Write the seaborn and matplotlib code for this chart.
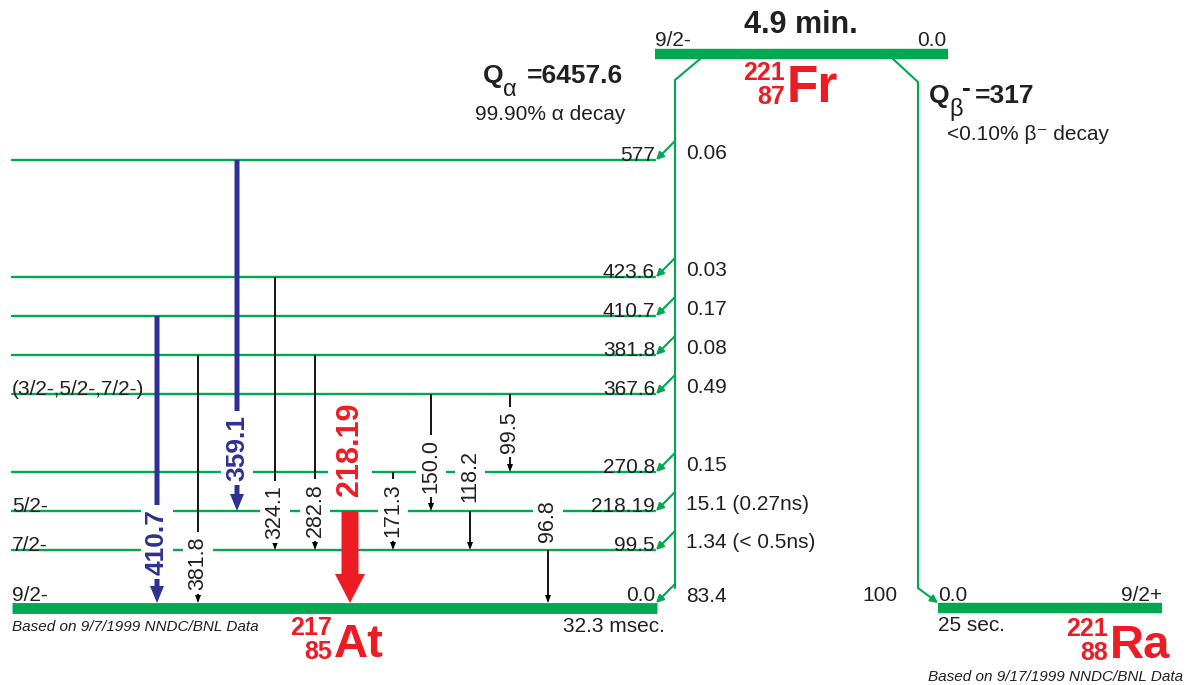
import matplotlib as mpl
import numpy as np
import pandas as pd
import seaborn as sns
import matplotlib.pyplot as plt

# 217At levels (keV), spins and alpha feeding (%)
level_energy = [0.0, 99.5, 218.19, 270.8, 367.6, 381.8, 410.7, 423.6, 577.0]
level_text = ["0.0", "99.5", "218.19", "270.8", "367.6", "381.8", "410.7", "423.6", "577"]
level_spin = ["9/2-", "7/2-", "5/2-", "", "(3/2-,5/2-,7/2-)", "", "", "", ""]
level_feed = ["83.4", "1.34 (< 0.5ns)", "15.1 (0.27ns)", "0.15", "0.49",
              "0.08", "0.17", "0.03", "0.06"]

# gamma transitions
gamma_text = ["410.7", "359.1", "381.8", "324.1", "282.8", "218.19",
              "171.3", "150.0", "118.2", "99.5", "96.8"]
gamma_from = [410.7, 577.0, 381.8, 423.6, 381.8, 218.19, 270.8, 367.6, 218.19, 367.6, 99.5]
gamma_to = [0.0, 218.19, 0.0, 99.5, 99.5, 0.0, 99.5, 218.19, 99.5, 270.8, 0.0]
gamma_kind = ["blue", "blue", "thin", "thin", "thin", "red",
              "thin", "thin", "thin", "thin", "thin"]

# layout of the scheme (pixel positions, not data)
level_y = [608, 550, 511, 472, 394, 355, 316, 277, 160]
gamma_x = [157, 237, 198, 275, 315, 350, 393, 431, 470, 510, 548]
gamma_label_y = [542, 448, 563, 512, 510, 449, 510, 466, 476, 432, 521]

GREEN = "#00a94f"
RED = "#ed1c24"
BLUE = "#2e3192"
INK = "#231f20"

styles = {
    "thin": dict(color="black", width=1.8, hw=6, hl=8, size=15.5, weight="normal"),
    "blue": dict(color=BLUE, width=5, hw=14, hl=17, size=19, weight="bold"),
    "red": dict(color=RED, width=17, hw=30, hl=29, size=22, weight="bold"),
}

sns.set_theme(style="white")
plt.rcParams["font.family"] = ["Liberation Sans", "DejaVu Sans"]

fig = plt.figure(figsize=(11.88, 6.85), dpi=100)
ax = fig.add_axes([0, 0, 1, 1])

ypos = dict(zip(level_energy, level_y))

# thin excited levels
rows = []
for e, y in zip(level_energy[1:], level_y[1:]):
    rows += [dict(x=12, y=y, level=e), dict(x=655, y=y, level=e)]
levels = pd.DataFrame(rows)
sns.lineplot(data=levels, x="x", y="y", units="level", estimator=None, sort=False,
             color=GREEN, lw=1.7, ax=ax, legend=False)

# ground states
ax.plot([12, 657], [608, 608], color=GREEN, lw=7.8, solid_capstyle="butt")
ax.plot([655, 948], [54, 54], color=GREEN, lw=7.5, solid_capstyle="butt")
ax.plot([938, 1162], [608, 608], color=GREEN, lw=7.5, solid_capstyle="butt")

# alpha and beta feeding
ax.plot([700, 675, 675], [59, 80, 588], color=GREEN, lw=1.5)
ax.plot([893, 918, 918], [59, 82, 588], color=GREEN, lw=1.5)
feed_arrow = dict(arrowstyle="-|>", color=GREEN, lw=1.5, shrinkA=0, shrinkB=0,
                  mutation_scale=11)
for y in level_y:
    yend = 603 if y == 608 else y
    ax.annotate("", xy=(656, yend), xytext=(675, yend - 19), arrowprops=feed_arrow)
ax.annotate("", xy=(938, 603), xytext=(918, 588), arrowprops=feed_arrow)

# gamma arrows
for txt, e0, e1, kind, x, ly in zip(gamma_text, gamma_from, gamma_to, gamma_kind,
                                     gamma_x, gamma_label_y):
    st = styles[kind]
    y0 = ypos[e0]
    y1 = 603 if e1 == 0.0 else ypos[e1]
    ax.arrow(x, y0, 0, y1 - y0, width=st["width"], head_width=st["hw"],
             head_length=st["hl"], length_includes_head=True,
             fc=st["color"], ec="none", zorder=3)
    ax.text(x, ly, txt, rotation=90, ha="center", va="center", fontsize=st["size"],
            fontweight=st["weight"], color=st["color"] if kind != "thin" else INK,
            bbox=dict(fc="white", ec="none", pad=5 if kind == "red" else 3), zorder=4)

# level labels
for txt, spin, feed, y in zip(level_text, level_spin, level_feed, level_y):
    base = 601 if y == 608 else y + 1
    ax.text(655, base, txt, ha="right", va="baseline", fontsize=15, color=INK)
    ax.text(686, y - 7 if y != 608 else 596, feed, ha="left", va="center",
            fontsize=15, color=INK)
    if spin:
        ax.text(12, base, spin, ha="left", va="baseline", fontsize=15, color=INK)


def nuclide(x, y, mass, charge, sym, size):
    ax.text(x, y, sym, ha="left", va="baseline", fontsize=size, fontweight="bold", color=RED)
    ax.text(x - 2, y - 17, f"{mass}\n{charge}", ha="right", va="center",
            multialignment="right", linespacing=0.95, fontsize=18,
            fontweight="bold", color=RED)


# parent 221Fr
ax.text(801, 33, "4.9 min.", ha="center", va="baseline", fontsize=22,
        fontweight="bold", color=INK)
ax.text(655, 46, "9/2-", ha="left", va="baseline", fontsize=15, color=INK)
ax.text(946, 46, "0.0", ha="right", va="baseline", fontsize=15, color=INK)
nuclide(787, 102, 221, 87, "Fr", 37)

# Q values
ax.text(483, 83, "Q", ha="left", va="baseline", fontsize=19, fontweight="bold", color=INK)
ax.text(503, 96, "α", ha="left", va="baseline", fontsize=17, color=INK)
ax.text(527, 83, "=6457.6", ha="left", va="baseline", fontsize=19, fontweight="bold", color=INK)
ax.text(625, 120, "99.90% α decay", ha="right", va="baseline", fontsize=15, color=INK)

ax.text(929, 103, "Q", ha="left", va="baseline", fontsize=19, fontweight="bold", color=INK)
ax.text(949, 116, "β", ha="left", va="baseline", fontsize=17, color=INK)
ax.text(962, 96, "-", ha="left", va="baseline", fontsize=19, fontweight="bold", color=INK)
ax.text(975, 103, "=317", ha="left", va="baseline", fontsize=19, fontweight="bold", color=INK)
ax.text(947, 140, "<0.10% β⁻ decay", ha="left", va="baseline", fontsize=15, color=INK)

# daughter 217At
ax.text(665, 632, "32.3 msec.", ha="right", va="baseline", fontsize=15, color=INK)
nuclide(334, 657, 217, 85, "At", 34)
ax.text(12, 631, "Based on 9/7/1999 NNDC/BNL Data", ha="left", va="baseline",
        fontsize=11, style="italic", color=INK)

# daughter 221Ra
ax.text(898, 601, "100", ha="right", va="baseline", fontsize=15, color=INK)
ax.text(938, 601, "0.0", ha="left", va="baseline", fontsize=15, color=INK)
ax.text(1162, 601, "9/2+", ha="right", va="baseline", fontsize=15, color=INK)
ax.text(938, 631, "25 sec.", ha="left", va="baseline", fontsize=15, color=INK)
nuclide(1110, 658, 221, 88, "Ra", 34)
ax.text(1183, 681, "Based on 9/17/1999 NNDC/BNL Data", ha="right", va="baseline",
        fontsize=11, style="italic", color=INK)

ax.set_xlim(0, 1188)
ax.set_ylim(685, 0)
ax.axis("off")

fig.savefig("out.png", dpi=100)
